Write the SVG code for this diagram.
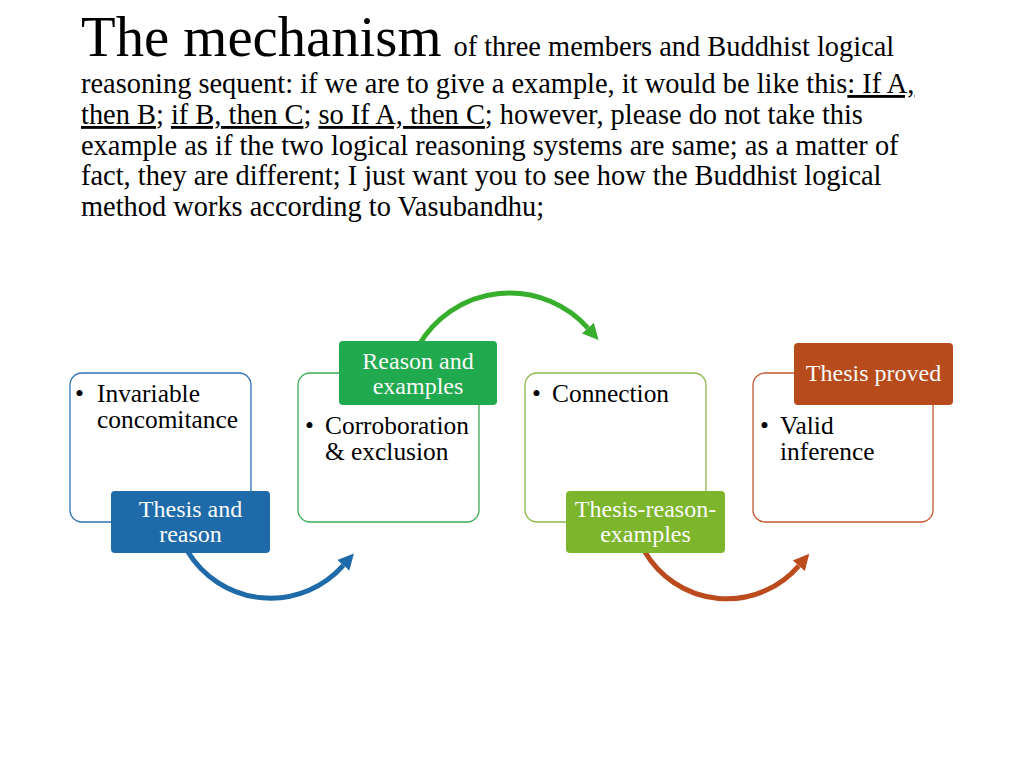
<svg xmlns="http://www.w3.org/2000/svg" width="1024" height="768" viewBox="0 0 1024 768">
<style>
text{font-family:"Liberation Serif","Times New Roman",serif;fill:#000}
.p{font-size:28.4px}
.b{font-size:25.4px}
.l{font-size:24px;fill:#fafafa;text-anchor:middle}
.u{text-decoration:underline}
.box{fill:#fff;stroke-width:1.3}
.arc{fill:none;stroke-width:5}
</style>
<defs>
<marker id="hb" markerUnits="userSpaceOnUse" markerWidth="20" markerHeight="20" refX="0" refY="8" orient="auto" viewBox="0 0 20 16"><path d="M0,0 L16,8 L0,16 Z" fill="#1f6aa8"/></marker>
<marker id="hg" markerUnits="userSpaceOnUse" markerWidth="20" markerHeight="20" refX="0" refY="8" orient="auto" viewBox="0 0 20 16"><path d="M0,0 L16,8 L0,16 Z" fill="#37ae2c"/></marker>
<marker id="ho" markerUnits="userSpaceOnUse" markerWidth="20" markerHeight="20" refX="0" refY="8" orient="auto" viewBox="0 0 20 16"><path d="M0,0 L16,8 L0,16 Z" fill="#bb4a1c"/></marker>
</defs>
<rect width="1024" height="768" fill="#fff"/>
<g id="title">
<text x="81" y="56"><tspan font-size="56.7">The mechanism</tspan><tspan class="p" dx="12">of three members and Buddhist logical</tspan></text>
<text class="p" x="81" y="93">reasoning sequent: if we are to give a example, it would be like this<tspan class="u">: If A,</tspan></text>
<text class="p" x="81" y="124"><tspan class="u">then B</tspan>; <tspan class="u">if B, then C</tspan>; <tspan class="u">so If A, then C</tspan>; however, please do not take this</text>
<text class="p" x="81" y="155">example as if the two logical reasoning systems are same; as a matter of</text>
<text class="p" x="81" y="185">fact, they are different; I just want you to see how the Buddhist logical</text>
<text class="p" x="81" y="216">method works according to Vasubandhu;</text>
</g>
<g id="connectors">
<path class="arc" stroke="#1f6aa8" d="M188,552 A97,97 0 0 0 343.3,565.4" marker-end="url(#hb)"/>
<path class="arc" stroke="#37ae2c" d="M419,345 A105,105 0 0 1 587.9,328.1" marker-end="url(#hg)"/>
<path class="arc" stroke="#bb4a1c" d="M645,552 A95,95 0 0 0 798.8,565.8" marker-end="url(#ho)"/>
</g>
<g id="node1">
<rect class="box" x="70" y="373" width="181" height="149" rx="12" stroke="#2f72b3"/>
<text class="b" x="75" y="402">•</text>
<text class="b" x="97" y="402">Invariable</text>
<text class="b" x="97" y="428">concomitance</text>
<rect x="111" y="491" width="159" height="62" rx="4" fill="#1f6aa8"/>
<text class="l" x="190.5" y="517">Thesis and</text>
<text class="l" x="190.5" y="542">reason</text>
</g>
<g id="node2">
<rect class="box" x="298" y="373" width="181" height="149" rx="12" stroke="#3cad58"/>
<text class="b" x="305" y="434">•</text>
<text class="b" x="325" y="434">Corroboration</text>
<text class="b" x="325" y="460">&amp; exclusion</text>
<rect x="339" y="341" width="158" height="64" rx="4" fill="#21a94f"/>
<text class="l" x="418" y="369">Reason and</text>
<text class="l" x="418" y="394">examples</text>
</g>
<g id="node3">
<rect class="box" x="525" y="373" width="181" height="149" rx="12" stroke="#8cb84a"/>
<text class="b" x="532" y="402">•</text>
<text class="b" x="552" y="402">Connection</text>
<rect x="566" y="491" width="159" height="62" rx="4" fill="#7db52d"/>
<text class="l" x="645.5" y="517">Thesis-reason-</text>
<text class="l" x="645.5" y="542">examples</text>
</g>
<g id="node4">
<rect class="box" x="753" y="373" width="180" height="149" rx="12" stroke="#c25a32"/>
<text class="b" x="760" y="434">•</text>
<text class="b" x="780" y="434">Valid</text>
<text class="b" x="780" y="460">inference</text>
<rect x="794" y="343" width="159" height="62" rx="4" fill="#b84b1c"/>
<text class="l" x="873.5" y="381">Thesis proved</text>
</g>
</svg>
